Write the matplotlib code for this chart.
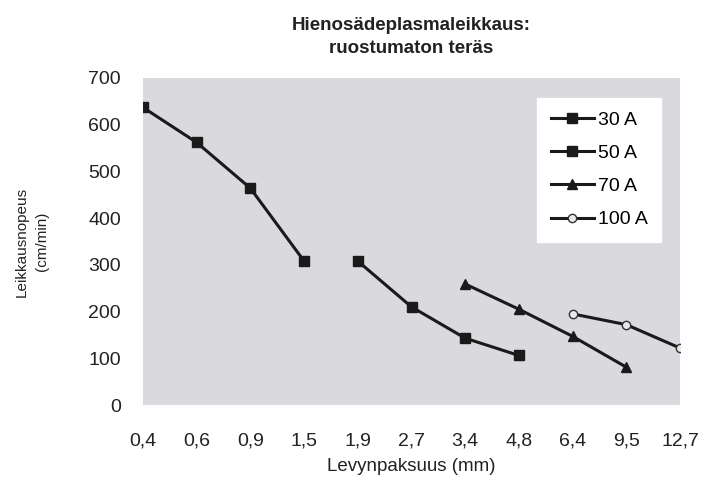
import matplotlib.pyplot as plt
import numpy as np

plt.rcParams['font.family'] = ['Liberation Sans', 'DejaVu Sans']

# categories (plate thickness, mm)
thickness = ['0,4', '0,6', '0,9', '1,5', '1,9', '2,7', '3,4', '4,8', '6,4', '9,5', '12,7']

# cutting speed (cm/min) per current
a30_x = ['0,4', '0,6', '0,9', '1,5']
a30_y = [637, 562, 464, 308]
a50_x = ['1,9', '2,7', '3,4', '4,8']
a50_y = [308, 210, 143, 106]
a70_x = ['3,4', '4,8', '6,4', '9,5']
a70_y = [259, 205, 147, 81]
a100_x = ['6,4', '9,5', '12,7']
a100_y = [195, 172, 122]

pos = {t: i for i, t in enumerate(thickness)}

fig = plt.figure(figsize=(7.04, 4.92), dpi=100)
ax = fig.add_axes([143/704, 1-405/492, (680-143)/704, (405-78)/492])
ax.set_facecolor('#d9d9de')

ax.plot([pos[t] for t in a30_x], a30_y, color='#1a1a1a', lw=2.2, marker='s', ms=7, label='30 A')
ax.plot([pos[t] for t in a50_x], a50_y, color='#1a1a1a', lw=2.2, marker='s', ms=7, label='50 A')
ax.plot([pos[t] for t in a70_x], a70_y, color='#1a1a1a', lw=2.2, marker='^', ms=7, label='70 A')
ax.plot([pos[t] for t in a100_x], a100_y, color='#1a1a1a', lw=2.2, marker='o', ms=6,
        mfc='#e8e8e8', mec='#333333', label='100 A')

ax.set_xlim(0, len(thickness) - 1)
ax.set_ylim(0, 700)
ax.set_xticks(range(len(thickness)))
ax.set_xticklabels(thickness)
ax.set_yticks(np.arange(0, 701, 100))
for s in ax.spines.values():
    s.set_visible(False)
ax.tick_params(length=0, labelsize=14, colors='#222222')
ax.tick_params(axis='x', pad=20)
ax.tick_params(axis='y', pad=16)

ax.set_xlabel('Levynpaksuus (mm)', fontsize=13.5, labelpad=6, color='#222222')
ax.set_ylabel('Leikkausnopeus\n(cm/min)', fontsize=11, labelpad=28, color='#222222',
              linespacing=1.6)
ax.set_title('Hienosädeplasmaleikkaus:\nruostumaton teräs', fontsize=13.5, fontweight='bold',
             pad=18, color='#222222', linespacing=1.45)

leg = ax.legend(loc='upper right', bbox_to_anchor=(0.965, 0.94), fontsize=14, frameon=True,
                fancybox=False, edgecolor='white', facecolor='white', framealpha=1,
                handlelength=2.2, handletextpad=0.2, borderpad=0.7, labelspacing=0.8,
                borderaxespad=0)

fig.savefig('out.png', dpi=100)
